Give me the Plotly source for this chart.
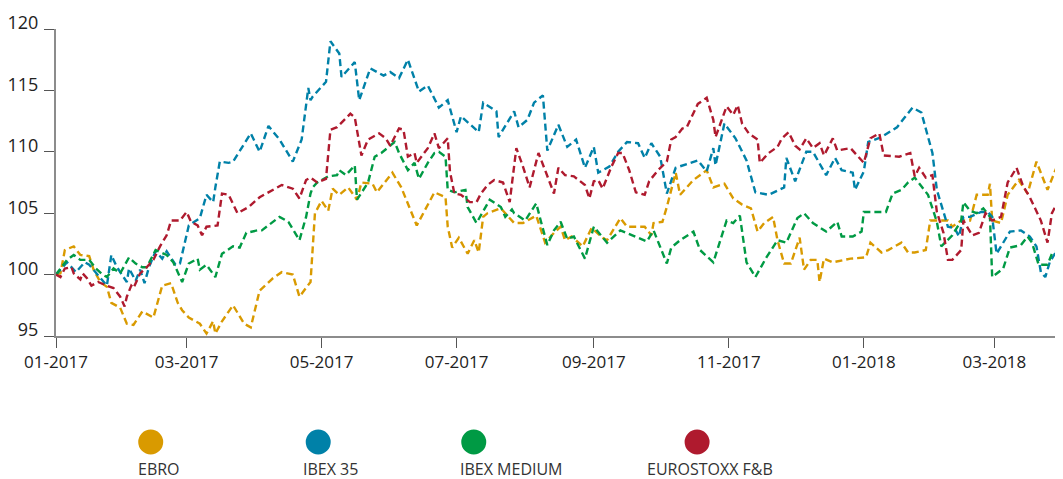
import pandas as pd
import plotly.graph_objects as go

START = "2017-01-01"

# ---- data: day offsets from START and index values (base 100) ----
ebro_days = [0, 2, 4, 8, 11, 15, 17, 20, 23, 25, 29, 32, 35, 39, 44, 46, 48, 52, 55, 57, 60, 65, 68, 71, 72, 75, 80, 82, 85, 88, 92, 98, 102, 107, 110, 115, 117, 120, 123, 125, 128, 132, 136, 138, 143, 145, 152, 156, 163, 171, 176, 177, 179, 182, 186, 189, 191, 193, 195, 201, 207, 211, 217, 221, 225, 228, 230, 233, 238, 242, 247, 249, 255, 258, 266, 269, 270, 274, 276, 280, 282, 285, 288, 294, 297, 302, 306, 310, 314, 317, 320, 324, 326, 329, 332, 336, 338, 341, 344, 345, 347, 351, 359, 366, 368, 373, 376, 378, 382, 385, 388, 393, 395, 399, 403, 405, 409, 413, 416, 421, 422, 423, 427, 430, 435, 439, 443, 448, 452, 455]
ebro_vals = [100, 100.1, 102, 102.3, 101.6, 101.5, 100.4, 99.4, 99, 97.7, 97.3, 96, 95.9, 97, 96.5, 97.9, 99.1, 99.3, 97.7, 97.1, 96.5, 96, 95.2, 96.2, 95.2, 96.2, 97.5, 96.9, 96, 95.7, 98.7, 99.7, 100.2, 100, 98.2, 99.4, 105, 106, 105.2, 107, 106.5, 107.1, 106.1, 107.5, 107.4, 106.7, 108.3, 107.1, 104, 106.7, 106.3, 103.9, 102.2, 103, 101.7, 102.8, 101.8, 104.7, 105, 105.4, 104.2, 104.2, 104.8, 102.6, 103.4, 103.9, 102.8, 103.1, 102.3, 103.8, 103, 102.8, 104.6, 103.9, 103.9, 103.2, 104.2, 104.3, 105.5, 108.3, 106.5, 107.1, 107.7, 108.5, 107.1, 107.4, 106.2, 105.7, 105.4, 103.5, 104.2, 104.7, 102.8, 100.9, 100.9, 103, 100.4, 101.2, 101.2, 99.4, 101.3, 101, 101.3, 101.4, 102.6, 101.8, 102, 102.2, 102.6, 101.8, 101.8, 102, 104.4, 104.4, 104.4, 103.9, 104.4, 104.4, 106.5, 106.5, 107.4, 104.4, 104.2, 106.5, 107.7, 106.6, 109.2, 106.9, 108.7, 108.5]

ibex35_days = [0, 2, 5, 9, 13, 15, 20, 23, 25, 27, 29, 32, 33, 36, 38, 40, 42, 45, 48, 50, 54, 56, 60, 65, 68, 71, 72, 74, 78, 80, 88, 92, 96, 101, 107, 111, 114, 115, 116, 122, 124, 128, 129, 135, 137, 142, 148, 151, 155, 159, 164, 168, 173, 177, 181, 183, 191, 193, 199, 200, 207, 209, 213, 216, 220, 222, 227, 231, 235, 239, 243, 245, 250, 254, 258, 263, 266, 269, 273, 276, 280, 290, 294, 297, 298, 302, 307, 312, 316, 322, 329, 330, 334, 339, 342, 348, 352, 355, 360, 361, 365, 367, 373, 380, 387, 391, 396, 398, 403, 406, 408, 410, 413, 418, 421, 423, 425, 431, 436, 440, 443, 445, 447, 449, 453, 455]
ibex35_vals = [100, 100.4, 101, 100.2, 101, 100.8, 99.7, 99.1, 101.6, 100.8, 100.2, 99.4, 100.5, 99.5, 100.4, 99.3, 100.6, 101.9, 101.3, 101.9, 100.8, 100.9, 104, 104.6, 106.5, 105.9, 107.1, 109.2, 109.1, 109.2, 111.5, 110, 112.1, 111, 109.2, 111, 115.2, 114.2, 114.5, 115.7, 119, 118, 116.1, 117.3, 114.2, 116.8, 116.2, 116.5, 116, 117.5, 114.9, 115.4, 113.6, 114.2, 111.6, 112.9, 111.6, 114, 113.3, 111.2, 113.3, 112, 112.6, 114, 114.6, 110.1, 112.2, 110.4, 111, 108.7, 110.4, 108.3, 108.8, 110, 110.8, 110.7, 109.5, 110.7, 109.6, 106.6, 108.7, 109.3, 108.4, 110.3, 108.9, 112.3, 111.1, 109.3, 106.7, 106.5, 107.1, 109.5, 107.6, 110, 110, 108.1, 109.5, 108.5, 108.3, 106.9, 108.4, 110.8, 111.2, 112, 113.6, 113.2, 109.9, 106.9, 103.9, 103.8, 103.1, 104.7, 104.7, 105.1, 105.1, 104.7, 101.7, 103.5, 103.6, 103.1, 102.3, 100.2, 99.8, 101, 102.2, 101.7]

medium_days = [0, 2, 5, 8, 11, 15, 18, 21, 23, 26, 29, 33, 36, 39, 41, 45, 50, 53, 57, 60, 64, 65, 68, 72, 75, 80, 83, 86, 91, 93, 101, 105, 110, 113, 115, 116, 118, 123, 127, 128, 131, 135, 136, 141, 144, 147, 153, 155, 159, 162, 164, 168, 171, 173, 176, 177, 180, 185, 186, 190, 192, 196, 201, 203, 206, 207, 212, 217, 219, 222, 225, 228, 231, 234, 239, 243, 249, 255, 267, 270, 276, 278, 282, 288, 291, 297, 303, 306, 309, 312, 316, 321, 326, 330, 335, 338, 342, 348, 353, 355, 360, 364, 365, 375, 378, 382, 385, 388, 394, 398, 400, 403, 405, 409, 410, 413, 416, 419, 422, 423, 428, 431, 436, 439, 441, 444, 448, 450, 453, 455]
medium_vals = [100, 100.5, 101.2, 101.6, 101.2, 101.2, 100.5, 100, 99.8, 100.5, 100.1, 101.4, 100.9, 100.6, 100.6, 102, 101.6, 101, 99.4, 100.9, 101.3, 100.4, 100.8, 99.8, 101.7, 102.3, 102.2, 103.4, 103.6, 103.6, 104.7, 104.3, 102.8, 104.7, 106.6, 107.1, 107.5, 108, 108.1, 108.5, 108.1, 108.9, 106.1, 107.5, 109.6, 109.9, 110.8, 109.9, 108.5, 109.1, 107.8, 109.1, 109.9, 110, 109.6, 106.9, 106.7, 106.9, 105.5, 104.2, 104.8, 106.1, 105.5, 104.7, 105.3, 105, 104.4, 105.8, 104.4, 102.4, 103.6, 104.3, 102.9, 103.1, 101.3, 103.9, 102.6, 103.6, 102.7, 103.6, 100.9, 102.2, 102.8, 103.5, 102, 101, 104.4, 104.2, 104.8, 101, 99.8, 101.4, 102.8, 102.6, 104.6, 105, 104.2, 103.5, 104.3, 103.1, 103.1, 103.5, 105.1, 105.1, 106.6, 106.9, 107.5, 107.9, 106.5, 104.3, 102.3, 102.8, 103.2, 104.4, 105.9, 105.2, 105, 105.4, 104.7, 99.8, 100.5, 102.2, 102.4, 103.1, 102.6, 100.8, 100.8, 101.7, 102, 101.7]

eurostoxx_days = [0, 2, 4, 7, 8, 11, 12, 14, 16, 19, 23, 26, 29, 31, 32, 34, 35, 38, 41, 44, 47, 50, 52, 56, 59, 61, 64, 66, 68, 73, 75, 78, 82, 87, 92, 99, 102, 107, 110, 113, 115, 118, 122, 124, 127, 133, 135, 138, 141, 146, 149, 151, 155, 157, 159, 162, 163, 168, 171, 173, 177, 178, 180, 183, 187, 190, 192, 195, 198, 202, 205, 208, 211, 214, 218, 221, 225, 227, 230, 234, 239, 241, 243, 245, 247, 251, 254, 256, 259, 262, 266, 268, 272, 276, 278, 280, 283, 285, 290, 294, 297, 298, 300, 303, 306, 308, 310, 313, 317, 318, 322, 326, 328, 331, 334, 336, 339, 342, 345, 347, 351, 353, 359, 365, 368, 372, 374, 381, 386, 388, 390, 393, 396, 398, 401, 403, 405, 409, 410, 414, 417, 420, 423, 427, 430, 434, 437, 440, 445, 448, 450, 452, 455]
eurostoxx_vals = [100, 99.8, 100.5, 100.6, 100.1, 99.6, 100.1, 99.7, 99.1, 99.4, 99.1, 98.9, 98.2, 97.4, 98.2, 99.1, 98.9, 100.1, 100.6, 101.2, 102.3, 103.2, 104.4, 104.4, 105.1, 104.3, 104, 103.2, 103.9, 104, 106.6, 106.5, 105, 105.5, 106.3, 107, 107.3, 107, 106.2, 107.7, 107.9, 107.5, 107.8, 111.8, 112, 113.1, 112.8, 109.7, 111, 111.5, 111.1, 110.5, 111.9, 111.8, 109.6, 109.9, 109.1, 110.3, 111.5, 110.3, 111.1, 108.4, 106.6, 106.5, 105.9, 105.9, 106.6, 107.3, 107.7, 107.5, 105.9, 110.3, 108.8, 107.1, 109.9, 108.5, 106.6, 108.7, 108.1, 108, 107.3, 106.2, 107.6, 107.7, 107, 108.8, 109.9, 109.9, 108.5, 106.7, 106.5, 107.6, 108.5, 109.2, 111, 111.2, 111.9, 112, 113.9, 114.4, 112.6, 111.2, 112.2, 113.7, 113, 113.8, 112.3, 111.5, 111, 109.1, 109.9, 110.4, 111.1, 111.6, 110.5, 110.2, 111.1, 110.3, 110.7, 109.7, 111.1, 110.1, 110.3, 109.1, 111.1, 111.5, 109.7, 109.6, 109.9, 108, 108.7, 107.9, 108.1, 105.1, 103.4, 101.2, 101.2, 102, 104.4, 103.2, 103.4, 105, 104.4, 104.7, 107.5, 108.7, 107.2, 106.3, 104.4, 102.6, 105, 105.7, 105]

series_names = ["EBRO", "IBEX 35", "IBEX MEDIUM", "EUROSTOXX F&B"]
series_colors = ["#D99A00", "#0081A8", "#009A44", "#AF1A2E"]
series_days = [ebro_days, ibex35_days, medium_days, eurostoxx_days]
series_vals = [ebro_vals, ibex35_vals, medium_vals, eurostoxx_vals]

y_ticks = [95, 100, 105, 110, 115, 120]

# ---- layout geometry (page pixels; the page body adds an 8px offset) ----
OFF = 8
PAGE_W, PAGE_H = 1063, 479
W, H = PAGE_W - OFF, PAGE_H - OFF
PLOT_L, PLOT_R, PLOT_T, PLOT_B = 53, 1063, 29, 336   # page pixels
ML, MR, MT, MB = PLOT_L - OFF, PAGE_W - PLOT_R, PLOT_T - OFF, H - (PLOT_B - OFF)
PW, PH = PLOT_R - PLOT_L, PLOT_B - PLOT_T

def px_x(p):
    return (p - PLOT_L) / PW

def px_y(p):
    return (PLOT_B - p) / PH

fig = go.Figure()
start = pd.Timestamp(START)
for name, color, days, vals in zip(series_names, series_colors, series_days, series_vals):
    dates = [start + pd.Timedelta(days=d) for d in days]
    fig.add_trace(go.Scatter(
        x=dates, y=vals, mode="lines", name=name,
        line=dict(color=color, width=2.4, dash="7px,4px"),
        showlegend=False, hoverinfo="skip",
    ))

# custom legend: circles + labels
legend_circle_x = [148, 316, 472, 696]
legend_text_x = [136, 302, 459, 647]
for name, color, cx, tx in zip(series_names, series_colors, legend_circle_x, legend_text_x):
    fig.add_shape(type="circle", xref="paper", yref="paper",
                  xsizemode="pixel", ysizemode="pixel",
                  xanchor=px_x(cx), yanchor=px_y(442),
                  x0=-12.5, x1=12.5, y0=-12.5, y1=12.5,
                  fillcolor=color, line=dict(width=0))
    fig.add_annotation(x=px_x(tx), y=px_y(469), xref="paper", yref="paper",
                       text=name, showarrow=False, xanchor="left", yanchor="middle",
                       xshift=-2, borderpad=0,
                       font=dict(size=16, color="#333333", family="Open Sans"))

axis_col = "#8C8C8C"
fig.update_layout(
    width=W, height=H,
    margin=dict(l=ML, r=MR, t=MT, b=MB, pad=0),
    paper_bgcolor="white", plot_bgcolor="white",
    font=dict(family="Open Sans", color="#222222"),
    xaxis=dict(
        range=[start, start + pd.Timedelta(days=455)],
        tickformat="%m-%Y", dtick="M2", tick0=START,
        ticks="outside", ticklen=10, tickwidth=1.2, tickcolor="#555555",
        showline=True, linecolor=axis_col, linewidth=2,
        showgrid=False, zeroline=False,
        tickfont=dict(size=17, color="#222222"),
    ),
    yaxis=dict(
        range=[95, 120], tickvals=y_ticks,
        ticks="outside", ticklen=10, tickwidth=1.2, tickcolor="#555555",
        showline=True, linecolor=axis_col, linewidth=2,
        showgrid=False, zeroline=False,
        tickfont=dict(size=18, color="#222222"),
        ticklabelshift=-6, ticklabelstandoff=2,
    ),
)

fig.write_html("out.html")
